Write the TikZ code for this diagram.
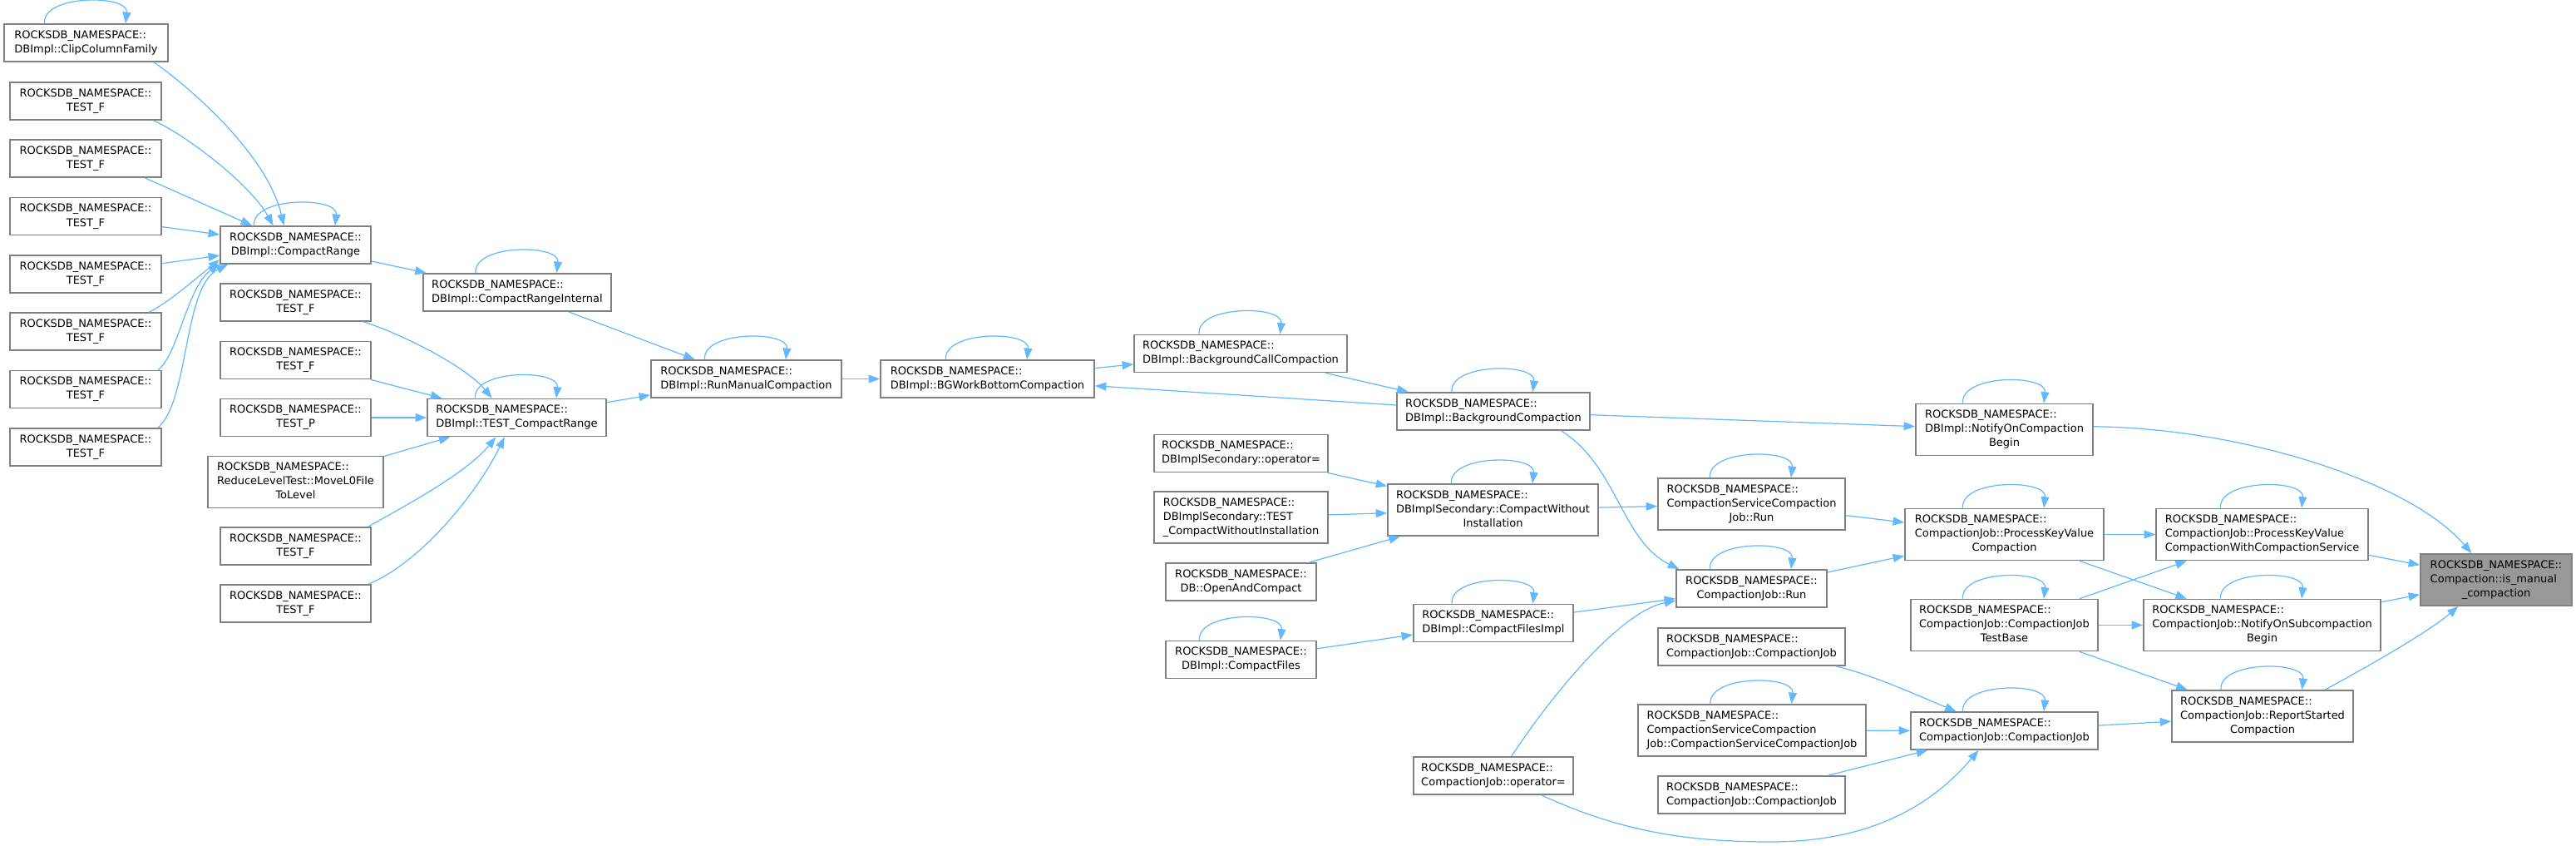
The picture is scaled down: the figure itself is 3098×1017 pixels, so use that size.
\documentclass[tikz,border=0pt]{standalone}
\usepackage{fontspec}
\setmainfont{DejaVu Sans}
\usetikzlibrary{arrows.meta}

\definecolor{edgeblue}{HTML}{63B8FF}
\newcommand{\dlab}[2]{\begin{tabular}{@{}l@{}}#1\\\multicolumn{1}{@{}c@{}}{#2}\end{tabular}}

\begin{document}
\begin{tikzpicture}[x=0.02cm, y=-0.02cm,
    fn/.style={draw=black!50, line width=1pt, fill=white, inner sep=0pt, minimum height=0.9cm, font=\fontsize{7.4}{9.7}\selectfont},
    fn3/.style={fn, minimum height=1.24cm},
    edge/.style={draw=edgeblue, line width=0.7pt, -{Triangle[length=0.27cm, width=0.2cm]}}]
    \useasboundingbox (0,0) rectangle (3098,1017);

    % callers of CompactRange
    \node[fn, minimum width=3.94cm] (clip) at (103.5,51.5) {\dlab{ROCKSDB\_NAMESPACE::}{DBImpl::ClipColumnFamily}};
    \foreach \i/\y in {1/121.5, 2/190.8, 3/260.1, 4/329.4, 5/398.7, 6/468, 7/537.3}
        \node[fn, minimum width=3.64cm] (tf\i) at (103,\y) {\dlab{ROCKSDB\_NAMESPACE::}{TEST\_F}};

    \node[fn, minimum width=3.62cm] (crange) at (355.5,294.5) {\dlab{ROCKSDB\_NAMESPACE::}{DBImpl::CompactRange}};
    \node[fn, minimum width=3.62cm] (mtf1) at (355.5,363.5) {\dlab{ROCKSDB\_NAMESPACE::}{TEST\_F}};
    \node[fn, minimum width=3.62cm] (mtf2) at (355.5,433) {\dlab{ROCKSDB\_NAMESPACE::}{TEST\_F}};
    \node[fn, minimum width=3.62cm] (testp) at (355.5,502) {\dlab{ROCKSDB\_NAMESPACE::}{TEST\_P}};
    \node[fn3, minimum width=4.22cm] (reducelvl) at (355.5,579.5) {\dlab{ROCKSDB\_NAMESPACE::\\ReduceLevelTest::MoveL0File}{ToLevel}};
    \node[fn, minimum width=3.62cm] (mtf3) at (355.5,656.5) {\dlab{ROCKSDB\_NAMESPACE::}{TEST\_F}};
    \node[fn, minimum width=3.62cm] (mtf4) at (355.5,725.5) {\dlab{ROCKSDB\_NAMESPACE::}{TEST\_F}};

    \node[fn, minimum width=4.52cm] (crinternal) at (622,351.5) {\dlab{ROCKSDB\_NAMESPACE::}{DBImpl::CompactRangeInternal}};
    \node[fn, minimum width=4.3cm] (testcr) at (621.5,502) {\dlab{ROCKSDB\_NAMESPACE::}{DBImpl::TEST\_CompactRange}};
    \node[fn, minimum width=4.58cm] (runmanual) at (897.5,455.5) {\dlab{ROCKSDB\_NAMESPACE::}{DBImpl::RunManualCompaction}};
    \node[fn, minimum width=5.14cm] (bgwork) at (1187.5,455.5) {\dlab{ROCKSDB\_NAMESPACE::}{DBImpl::BGWorkBottomCompaction}};

    % secondary / compact files
    \node[fn, minimum width=5.12cm] (bgcall) at (1492,425) {\dlab{ROCKSDB\_NAMESPACE::}{DBImpl::BackgroundCallCompaction}};
    \node[fn, minimum width=4.18cm] (dbsop) at (1492.5,545) {\dlab{ROCKSDB\_NAMESPACE::}{DBImplSecondary::operator=}};
    \node[fn3, minimum width=4.18cm] (dbstest) at (1492.5,622) {\dlab{ROCKSDB\_NAMESPACE::\\DBImplSecondary::TEST}{\_CompactWithoutInstallation}};
    \node[fn, minimum width=3.62cm] (openc) at (1492.5,699.5) {\dlab{ROCKSDB\_NAMESPACE::}{DB::OpenAndCompact}};
    \node[fn, minimum width=3.62cm] (cfiles) at (1492.5,793) {\dlab{ROCKSDB\_NAMESPACE::}{DBImpl::CompactFiles}};

    \node[fn, minimum width=4.64cm] (bgcomp) at (1796,494.5) {\dlab{ROCKSDB\_NAMESPACE::}{DBImpl::BackgroundCompaction}};
    \node[fn3, minimum width=5.06cm] (cwi) at (1795.5,613) {\dlab{ROCKSDB\_NAMESPACE::\\DBImplSecondary::CompactWithout}{Installation}};
    \node[fn, minimum width=3.84cm] (cfimpl) at (1796,749) {\dlab{ROCKSDB\_NAMESPACE::}{DBImpl::CompactFilesImpl}};
    \node[fn, minimum width=3.84cm] (cjop) at (1796,932.5) {\dlab{ROCKSDB\_NAMESPACE::}{CompactionJob::operator=}};

    % compaction job
    \node[fn3, minimum width=4.5cm] (csrun) at (2106.5,606) {\dlab{ROCKSDB\_NAMESPACE::\\CompactionServiceCompaction}{Job::Run}};
    \node[fn, minimum width=3.62cm] (cjrun) at (2106.5,707.5) {\dlab{ROCKSDB\_NAMESPACE::}{CompactionJob::Run}};
    \node[fn, minimum width=4.5cm] (cjc1) at (2106.5,777.5) {\dlab{ROCKSDB\_NAMESPACE::}{CompactionJob::CompactionJob}};
    \node[fn3, minimum width=5.48cm] (csctor) at (2107,878) {\dlab{ROCKSDB\_NAMESPACE::\\CompactionServiceCompaction}{Job::CompactionServiceCompactionJob}};
    \node[fn, minimum width=4.5cm] (cjc3) at (2106.5,955.5) {\dlab{ROCKSDB\_NAMESPACE::}{CompactionJob::CompactionJob}};

    \node[fn3, minimum width=4.26cm] (notifybegin) at (2410.5,516.5) {\dlab{ROCKSDB\_NAMESPACE::\\DBImpl::NotifyOnCompaction}{Begin}};
    \node[fn3, minimum width=4.78cm] (pkvc) at (2410.5,642.5) {\dlab{ROCKSDB\_NAMESPACE::\\CompactionJob::ProcessKeyValue}{Compaction}};
    \node[fn3, minimum width=4.5cm] (testbase) at (2410.5,751.5) {\dlab{ROCKSDB\_NAMESPACE::\\CompactionJob::CompactionJob}{TestBase}};
    \node[fn, minimum width=4.5cm] (cjc2) at (2410.5,878.5) {\dlab{ROCKSDB\_NAMESPACE::}{CompactionJob::CompactionJob}};

    \node[fn3, minimum width=5.1cm] (pkvccs) at (2720.5,642.5) {\dlab{ROCKSDB\_NAMESPACE::\\CompactionJob::ProcessKeyValue}{CompactionWithCompactionService}};
    \node[fn3, minimum width=5.7cm] (notifysub) at (2720.5,751.5) {\dlab{ROCKSDB\_NAMESPACE::\\CompactionJob::NotifyOnSubcompaction}{Begin}};
    \node[fn3, minimum width=4.36cm] (report) at (2721,861) {\dlab{ROCKSDB\_NAMESPACE::\\CompactionJob::ReportStarted}{Compaction}};

    \node[fn3, fill=black!40, minimum width=3.64cm] (ismanual) at (3002,697) {\dlab{ROCKSDB\_NAMESPACE::\\Compaction::is\_manual}{\_compaction}};

    % recursive calls
    \foreach \n in {clip, crange, crinternal, testcr, runmanual, bgwork, bgcall, bgcomp, cwi, cfimpl, cfiles, csrun, cjrun, csctor, notifybegin, pkvc, pkvccs, testbase, notifysub, cjc2, report}
        \draw[edge] ([xshift=-1cm]\n.north) .. controls +(-0.06cm,0.7cm) and +(0.08cm,0.7cm) .. ([xshift=0.95cm]\n.north);

    % calls
    \draw[edge] (clip.-16) .. controls (215,95) and (320,180) .. (crange.121);
    \draw[edge] (tf1.-16) .. controls (220,160) and (300,220) .. (crange.139);
    \draw[edge] (tf2.-18) -- (crange.156);
    \draw[edge] (tf3) -- (crange);
    \draw[edge] (tf4) -- (crange);
    \draw[edge] (tf5.17) .. controls (205,362) and (235,335) .. (crange.-169);
    \draw[edge] (tf6.15) .. controls (215,425) and (225,345) .. (crange.-166);
    \draw[edge] (tf7.15) .. controls (228,480) and (220,345) .. (crange.-164);
    \draw[edge] (crange) -- (crinternal);
    \draw[edge] (mtf1.-16) .. controls (480,400) and (560,440) .. (testcr.142);
    \draw[edge] (mtf2) -- (testcr);
    \draw[edge] (testp) -- (testcr);
    \draw[edge] (reducelvl) -- (testcr);
    \draw[edge] (mtf3.15) .. controls (480,612) and (560,570) .. (testcr.-137);
    \draw[edge] (mtf4.15) .. controls (500,680) and (570,600) .. (testcr.-122);
    \draw[edge] (crinternal) -- (runmanual);
    \draw[edge] (testcr) -- (runmanual);
    \draw[edge] (runmanual) -- (bgwork);
    \draw[edge] (bgwork) -- (bgcall);
    \draw[edge] (bgcall) -- (bgcomp);
    \draw[edge] (bgcomp) -- (bgwork);
    \draw[edge] (bgcomp) -- (notifybegin);
    \draw[edge] (bgcomp.-16) .. controls (1945,560) and (1950,650) .. (cjrun.165);
    \draw[edge] (dbsop) -- (cwi);
    \draw[edge] (dbstest) -- (cwi);
    \draw[edge] (openc) -- (cwi);
    \draw[edge] (cfiles) -- (cfimpl);
    \draw[edge] (cfimpl) -- (cjrun);
    \draw[edge] (cwi) -- (csrun);
    \draw[edge] (cjop.47) .. controls (1870,830) and (1950,735) .. (cjrun.-171);
    \draw[edge] (cjop.-22) .. controls (1950,1000) and (2030,1012) .. (2130,1012) .. controls (2260,1012) and (2330,960) .. (cjc2.-143);
    \draw[edge] (csrun) -- (pkvc);
    \draw[edge] (cjrun) -- (pkvc);
    \draw[edge] (cjc1.-13) .. controls (2250,810) and (2320,842) .. (cjc2.158);
    \draw[edge] (csctor) -- (cjc2);
    \draw[edge] (cjc3) -- (cjc2);
    \draw[edge] (pkvc) -- (pkvccs);
    \draw[edge] (pkvc) -- (notifysub);
    \draw[edge] (testbase) -- (pkvccs);
    \draw[edge] (testbase) -- (notifysub);
    \draw[edge] (testbase) -- (report);
    \draw[edge] (cjc2) -- (report);
    \draw[edge] (notifybegin.2) .. controls (2700,515) and (2900,580) .. (ismanual.133);
    \draw[edge] (pkvccs) -- (ismanual);
    \draw[edge] (notifysub) -- (ismanual);
    \draw[edge] (report.23) .. controls (2850,800) and (2920,760) .. (ismanual.-145);
\end{tikzpicture}
\end{document}
